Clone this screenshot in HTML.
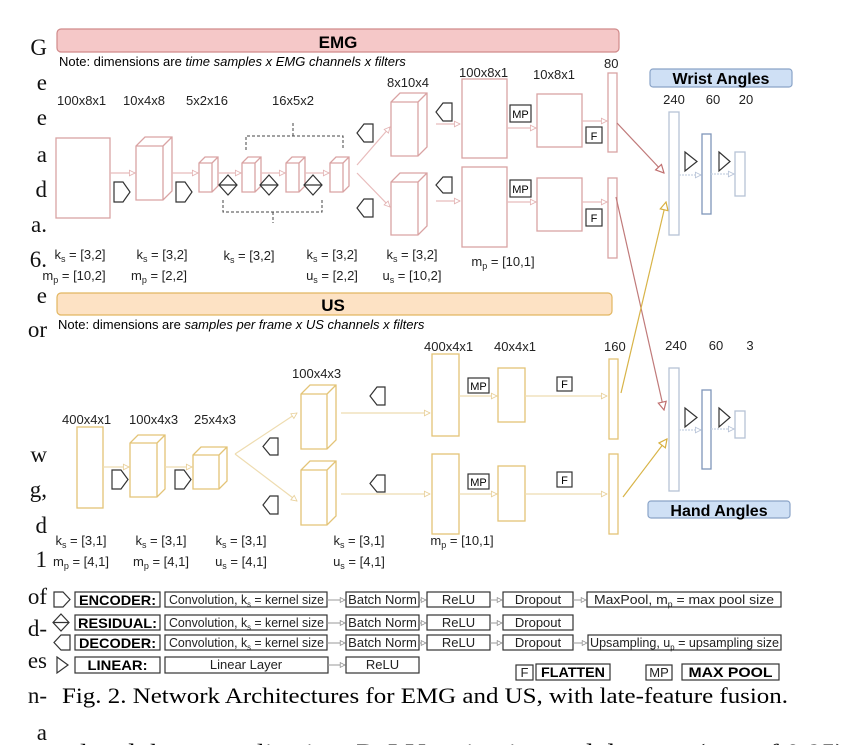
<!DOCTYPE html>
<html><head><meta charset="utf-8"><style>
html,body{margin:0;padding:0;background:#fff;width:848px;height:745px;overflow:hidden}
svg{display:block}
text{font-family:"Liberation Sans",sans-serif}
.s{font-family:"Liberation Serif",serif}
</style></head><body>
<svg width="848" height="745" viewBox="0 0 848 745" xmlns="http://www.w3.org/2000/svg">
<defs>
<marker id="ar" viewBox="0 0 10 10" refX="9" refY="5" markerWidth="7" markerHeight="7" orient="auto" markerUnits="userSpaceOnUse"><path d="M1,1 L9,5 L1,9 Z" fill="#fff" stroke="#e3b3b3" stroke-width="1.2"/></marker>
<marker id="ay" viewBox="0 0 10 10" refX="9" refY="5" markerWidth="7" markerHeight="7" orient="auto" markerUnits="userSpaceOnUse"><path d="M1,1 L9,5 L1,9 Z" fill="#fff" stroke="#e8d09a" stroke-width="1.2"/></marker>
<marker id="ab" viewBox="0 0 10 10" refX="9" refY="5" markerWidth="7" markerHeight="7" orient="auto" markerUnits="userSpaceOnUse"><path d="M1,1 L9,5 L1,9 Z" fill="#fff" stroke="#b8c4d8" stroke-width="1.2"/></marker>
<marker id="aR" viewBox="0 0 10 10" refX="9" refY="5" markerWidth="10" markerHeight="10" orient="auto" markerUnits="userSpaceOnUse"><path d="M1,1 L9,5 L1,9 Z" fill="#fff" stroke="#c07070" stroke-width="1.2"/></marker>
<marker id="aY" viewBox="0 0 10 10" refX="9" refY="5" markerWidth="10" markerHeight="10" orient="auto" markerUnits="userSpaceOnUse"><path d="M1,1 L9,5 L1,9 Z" fill="#fff" stroke="#d8b040" stroke-width="1.2"/></marker>
<marker id="ag" viewBox="0 0 10 10" refX="9" refY="5" markerWidth="6" markerHeight="6" orient="auto" markerUnits="userSpaceOnUse"><path d="M1,1 L9,5 L1,9 Z" fill="#fff" stroke="#888" stroke-width="1.2"/></marker>
</defs>

<g class="s" font-size="23" text-anchor="end" fill="#111">
<text x="47" y="55" class="s">G</text><text x="47" y="90" class="s">e</text><text x="47" y="125" class="s">e</text>
<text x="47" y="162" class="s">a</text><text x="47" y="197" class="s">d</text><text x="47" y="232" class="s">a.</text>
<text x="47" y="267" class="s">6.</text><text x="47" y="303" class="s">e</text><text x="47" y="337" class="s">or</text>
<text x="47" y="462" class="s">w</text><text x="47" y="497" class="s">g,</text><text x="47" y="533" class="s">d</text>
<text x="47" y="567" class="s">1</text><text x="47" y="604" class="s">of</text><text x="47" y="636" class="s">d-</text>
<text x="47" y="668" class="s">es</text><text x="47" y="703" class="s">n-</text><text x="47" y="740" class="s">a</text>
</g>

<rect x="57" y="29" width="562" height="23" rx="4" fill="#f5c8c8" stroke="#d08a8a" stroke-width="1.2"/>
<text x="338" y="48" font-size="17" font-weight="bold" text-anchor="middle">EMG</text>
<text x="59" y="66" font-size="13">Note: dimensions are <tspan font-style="italic">time samples x EMG channels x filters</tspan></text>

<g font-size="13" fill="#222">
<text x="57" y="105">100x8x1</text><text x="123" y="105">10x4x8</text><text x="186" y="105">5x2x16</text><text x="272" y="105">16x5x2</text>
<text x="387" y="87">8x10x4</text><text x="459" y="77">100x8x1</text><text x="533" y="79">10x8x1</text><text x="604" y="68">80</text>
</g>

<g fill="none" stroke="#d9a3a3" stroke-width="1.3">
<rect x="56" y="138" width="54" height="80"/>
<path d="M136,200 V146 l9,-9 H172 V191 l-9,9 H136 Z M136,146 H163 V200 M163,146 l9,-9"/>
<path d="M199,192 V163 l6,-6 H218 V186 l-6,6 Z M199,163 H212 V192 M212,163 l6,-6"/>
<path d="M242,192 V163 l6,-6 H261 V186 l-6,6 Z M242,163 H255 V192 M255,163 l6,-6"/>
<path d="M286,192 V163 l6,-6 H305 V186 l-6,6 Z M286,163 H299 V192 M299,163 l6,-6"/>
<path d="M330,192 V163 l6,-6 H349 V186 l-6,6 Z M330,163 H343 V192 M343,163 l6,-6"/>
<path d="M391,156 V102 l9,-9 H427 V147 l-9,9 Z M391,102 H418 V156 M418,102 l9,-9"/>
<path d="M391,235 V182 l9,-9 H427 V226 l-9,9 Z M391,182 H418 V235 M418,182 l9,-9"/>
<rect x="462" y="79" width="45" height="79"/><rect x="462" y="167" width="45" height="80"/>
<rect x="537" y="94" width="45" height="53"/><rect x="537" y="178" width="45" height="53"/>
<rect x="608" y="73" width="9" height="79"/><rect x="608" y="178" width="9" height="80"/>
</g>
<g stroke="#e8bcbc" stroke-width="1.2" fill="none">
<line x1="110" y1="173" x2="135" y2="173" marker-end="url(#ar)"/>
<line x1="172" y1="173" x2="198" y2="173" marker-end="url(#ar)"/>
<line x1="218" y1="173" x2="241" y2="173" marker-end="url(#ar)"/>
<line x1="261" y1="173" x2="285" y2="173" marker-end="url(#ar)"/>
<line x1="305" y1="173" x2="329" y2="173" marker-end="url(#ar)"/>
<line x1="357" y1="165" x2="390" y2="127" marker-end="url(#ar)"/>
<line x1="357" y1="173" x2="390" y2="207" marker-end="url(#ar)"/>
<line x1="436" y1="124" x2="460" y2="124" marker-end="url(#ar)"/>
<line x1="436" y1="201" x2="460" y2="201" marker-end="url(#ar)"/>
<line x1="507" y1="128" x2="536" y2="128" marker-end="url(#ar)"/>
<line x1="507" y1="202" x2="536" y2="202" marker-end="url(#ar)"/>
<line x1="582" y1="121" x2="607" y2="121" marker-end="url(#ar)"/>
<line x1="582" y1="202" x2="607" y2="202" marker-end="url(#ar)"/>
</g>
<g stroke="#333" stroke-width="1.2" fill="#fff">
<path d="M114,182 H123 L130,192 L123,202 H114 Z"/><path d="M176,182 H185 L192,192 L185,202 H176 Z"/>
<path d="M228,175 L237,185 L228,195 L219,185 Z M219,185 H237"/>
<path d="M269,175 L278,185 L269,195 L260,185 Z M260,185 H278"/>
<path d="M313,175 L322,185 L313,195 L304,185 Z M304,185 H322"/>
<path d="M373,124 H364 L357,133 L364,142 H373 Z"/><path d="M373,199 H364 L357,208 L364,217 H373 Z"/>
<path d="M452,103 H443 L436,112 L443,121 H452 Z"/><path d="M452,177 H443 L436,185 L443,193 H452 Z"/>
</g>
<g stroke="#444" stroke-width="1" fill="none" stroke-dasharray="3,2">
<path d="M246,150 V136 H343 V150 M293,136 V122"/>
<path d="M223,200 V212 H322 V200 M273,212 V223"/>
</g>
<g stroke="#333" stroke-width="1.2" fill="#fff">
<rect x="510" y="105" width="21" height="17"/><rect x="510" y="180" width="21" height="17"/>
<rect x="586" y="127" width="16" height="16"/><rect x="586" y="209" width="16" height="17"/>
</g>
<g font-size="11" text-anchor="middle"><text x="520.5" y="118">MP</text><text x="520.5" y="193">MP</text><text x="594" y="140">F</text><text x="594" y="222">F</text></g>

<g font-size="13" text-anchor="middle" fill="#222">
<text x="80" y="259">k<tspan font-size="9" dy="3">s</tspan><tspan dy="-3"> = [3,2]</tspan></text>
<text x="74" y="280">m<tspan font-size="9" dy="3">p</tspan><tspan dy="-3"> = [10,2]</tspan></text>
<text x="162" y="259">k<tspan font-size="9" dy="3">s</tspan><tspan dy="-3"> = [3,2]</tspan></text>
<text x="159" y="280">m<tspan font-size="9" dy="3">p</tspan><tspan dy="-3"> = [2,2]</tspan></text>
<text x="249" y="260">k<tspan font-size="9" dy="3">s</tspan><tspan dy="-3"> = [3,2]</tspan></text>
<text x="332" y="259">k<tspan font-size="9" dy="3">s</tspan><tspan dy="-3"> = [3,2]</tspan></text>
<text x="332" y="280">u<tspan font-size="9" dy="3">s</tspan><tspan dy="-3"> = [2,2]</tspan></text>
<text x="412" y="259">k<tspan font-size="9" dy="3">s</tspan><tspan dy="-3"> = [3,2]</tspan></text>
<text x="412" y="280">u<tspan font-size="9" dy="3">s</tspan><tspan dy="-3"> = [10,2]</tspan></text>
<text x="503" y="266">m<tspan font-size="9" dy="3">p</tspan><tspan dy="-3"> = [10,1]</tspan></text>
</g>

<rect x="57" y="293" width="555" height="22" rx="4" fill="#fde2c4" stroke="#e2b660" stroke-width="1.2"/>
<text x="333" y="311" font-size="17" font-weight="bold" text-anchor="middle">US</text>
<text x="58" y="329" font-size="13">Note: dimensions are  <tspan font-style="italic">samples per frame x US channels x filters</tspan></text>

<g font-size="13" fill="#222">
<text x="62" y="424">400x4x1</text><text x="129" y="424">100x4x3</text><text x="194" y="424">25x4x3</text>
<text x="292" y="378">100x4x3</text><text x="424" y="351">400x4x1</text><text x="494" y="351">40x4x1</text><text x="604" y="351">160</text>
</g>
<g fill="none" stroke="#e3c477" stroke-width="1.3">
<rect x="77" y="427" width="26" height="81"/>
<path d="M130,497 V443 l8,-8 H165 V489 l-8,8 Z M130,443 H157 V497 M157,443 l8,-8"/>
<path d="M193,489 V455 l8,-8 H227 V481 l-8,8 Z M193,455 H219 V489 M219,455 l8,-8"/>
<path d="M301,449 V394 l9,-9 H336 V440 l-9,9 Z M301,394 H327 V449 M327,394 l9,-9"/>
<path d="M301,525 V470 l9,-9 H336 V516 l-9,9 Z M301,470 H327 V525 M327,470 l9,-9"/>
<rect x="432" y="354" width="27" height="82"/><rect x="432" y="454" width="27" height="80"/>
<rect x="498" y="368" width="27" height="54"/><rect x="498" y="466" width="27" height="55"/>
<rect x="609" y="359" width="9" height="80"/><rect x="609" y="454" width="9" height="80"/>
</g>
<g stroke="#eedcb0" stroke-width="1.2" fill="none">
<line x1="103" y1="467" x2="129" y2="467" marker-end="url(#ay)"/>
<line x1="165" y1="467" x2="192" y2="467" marker-end="url(#ay)"/>
<line x1="235" y1="454" x2="297" y2="413" marker-end="url(#ay)"/>
<line x1="235" y1="454" x2="297" y2="501" marker-end="url(#ay)"/>
<line x1="341" y1="413" x2="430" y2="413" marker-end="url(#ay)"/>
<line x1="341" y1="494" x2="430" y2="494" marker-end="url(#ay)"/>
<line x1="459" y1="396" x2="497" y2="396" marker-end="url(#ay)"/>
<line x1="459" y1="494" x2="497" y2="494" marker-end="url(#ay)"/>
<line x1="525" y1="396" x2="607" y2="396" marker-end="url(#ay)"/>
<line x1="525" y1="494" x2="607" y2="494" marker-end="url(#ay)"/>
</g>
<g stroke="#333" stroke-width="1.2" fill="#fff">
<path d="M112,470 H121 L128,479.5 L121,489 H112 Z"/><path d="M175,470 H184 L191,479.5 L184,489 H175 Z"/>
<path d="M278,438 H270 L263,446.5 L270,455 H278 Z"/><path d="M278,496 H270 L263,505 L270,514 H278 Z"/>
<path d="M385,387 H377 L370,396 L377,405 H385 Z"/><path d="M385,475 H377 L370,483.5 L377,492 H385 Z"/>
<rect x="468" y="378" width="21" height="15"/><rect x="468" y="474" width="21" height="15"/>
<rect x="557" y="377" width="15" height="14"/><rect x="557" y="472" width="15" height="15"/>
</g>
<g font-size="11" text-anchor="middle"><text x="478.5" y="390">MP</text><text x="478.5" y="486">MP</text><text x="564.5" y="388">F</text><text x="564.5" y="484">F</text></g>

<g font-size="13" text-anchor="middle" fill="#222">
<text x="81" y="545">k<tspan font-size="9" dy="3">s</tspan><tspan dy="-3"> = [3,1]</tspan></text>
<text x="81" y="566">m<tspan font-size="9" dy="3">p</tspan><tspan dy="-3"> = [4,1]</tspan></text>
<text x="161" y="545">k<tspan font-size="9" dy="3">s</tspan><tspan dy="-3"> = [3,1]</tspan></text>
<text x="161" y="566">m<tspan font-size="9" dy="3">p</tspan><tspan dy="-3"> = [4,1]</tspan></text>
<text x="241" y="545">k<tspan font-size="9" dy="3">s</tspan><tspan dy="-3"> = [3,1]</tspan></text>
<text x="241" y="566">u<tspan font-size="9" dy="3">s</tspan><tspan dy="-3"> = [4,1]</tspan></text>
<text x="359" y="545">k<tspan font-size="9" dy="3">s</tspan><tspan dy="-3"> = [3,1]</tspan></text>
<text x="359" y="566">u<tspan font-size="9" dy="3">s</tspan><tspan dy="-3"> = [4,1]</tspan></text>
<text x="462" y="545">m<tspan font-size="9" dy="3">p</tspan><tspan dy="-3"> = [10,1]</tspan></text>
</g>

<line x1="617" y1="123" x2="664" y2="173" stroke="#c07a7a" stroke-width="1.2" marker-end="url(#aR)"/>
<line x1="616" y1="197" x2="664" y2="410" stroke="#c07a7a" stroke-width="1.2" marker-end="url(#aR)"/>
<line x1="621" y1="393" x2="666" y2="202" stroke="#d8b448" stroke-width="1.2" marker-end="url(#aY)"/>
<line x1="623" y1="497" x2="667" y2="439" stroke="#d8b448" stroke-width="1.2" marker-end="url(#aY)"/>

<rect x="650" y="69" width="142" height="18" rx="3" fill="#cfe0f5" stroke="#8aa4c8" stroke-width="1.2"/>
<text x="721" y="84" font-size="16" font-weight="bold" text-anchor="middle">Wrist Angles</text>
<rect x="648" y="501" width="142" height="17" rx="3" fill="#cfe0f5" stroke="#8aa4c8" stroke-width="1.2"/>
<text x="719" y="516" font-size="16" font-weight="bold" text-anchor="middle">Hand Angles</text>
<g font-size="13" text-anchor="middle" fill="#222">
<text x="674" y="104">240</text><text x="713" y="104">60</text><text x="746" y="104">20</text>
<text x="676" y="350">240</text><text x="716" y="350">60</text><text x="750" y="350">3</text>
</g>
<g fill="none" stroke-width="1.3">
<rect x="669" y="112" width="10" height="123" stroke="#b6c2d6"/>
<rect x="702" y="134" width="9" height="80" stroke="#7f96ba"/>
<rect x="735" y="152" width="10" height="44" stroke="#b6c2d6"/>
<rect x="669" y="368" width="10" height="123" stroke="#b6c2d6"/>
<rect x="702" y="390" width="9" height="79" stroke="#7f96ba"/>
<rect x="735" y="411" width="10" height="27" stroke="#b6c2d6"/>
</g>
<g stroke="#c8d2e2" stroke-width="1.2" stroke-dasharray="2,1">
<line x1="679" y1="175" x2="701" y2="175" marker-end="url(#ab)"/>
<line x1="711" y1="174" x2="734" y2="174" marker-end="url(#ab)"/>
<line x1="679" y1="430" x2="701" y2="430" marker-end="url(#ab)"/>
<line x1="711" y1="429" x2="734" y2="429" marker-end="url(#ab)"/>
</g>
<g stroke="#333" stroke-width="1.2" fill="#fff">
<path d="M685,152 L697,161.5 L685,171 Z"/><path d="M719,152 L730,161.5 L719,171 Z"/>
<path d="M685,408 L697,417.5 L685,427 Z"/><path d="M719,408 L730,417.5 L719,427 Z"/>
</g>

<g stroke="#333" stroke-width="1.2" fill="#fff">
<path d="M54,592 H63 L70,599.5 L63,607 H54 Z"/>
<path d="M61,614 L69,622.5 L61,631 L53,622.5 Z M53,622.5 H69"/>
<path d="M70,635 H61 L54,642.5 L61,650 H70 Z"/>
<path d="M57,657 L68,665 L57,673 Z"/>
<rect x="75" y="592" width="85" height="15"/><rect x="75" y="615" width="85" height="15"/><rect x="75" y="635" width="85" height="15"/><rect x="75" y="657" width="85" height="16"/>
<rect x="165" y="592" width="162" height="15"/><rect x="165" y="615" width="162" height="15"/><rect x="165" y="635" width="162" height="15"/><rect x="165" y="657" width="163" height="16"/>
<rect x="346" y="592" width="73" height="15"/><rect x="346" y="615" width="73" height="15"/><rect x="346" y="635" width="73" height="15"/><rect x="346" y="657" width="73" height="16"/>
<rect x="427" y="592" width="63" height="15"/><rect x="427" y="615" width="63" height="15"/><rect x="427" y="635" width="63" height="15"/>
<rect x="503" y="592" width="70" height="15"/><rect x="503" y="615" width="70" height="15"/><rect x="503" y="635" width="70" height="15"/>
<rect x="587" y="592" width="194" height="15"/><rect x="588" y="635" width="193" height="15"/>
<rect x="516" y="665" width="17" height="15"/><rect x="536" y="664" width="74" height="16"/>
<rect x="646" y="665" width="26" height="15"/><rect x="682" y="664" width="97" height="16"/>
</g>
<g stroke="#999" stroke-width="1" fill="none">
<line x1="327" y1="600" x2="345" y2="600" marker-end="url(#ag)"/><line x1="419" y1="600" x2="426" y2="600" marker-end="url(#ag)"/>
<line x1="490" y1="600" x2="502" y2="600" marker-end="url(#ag)"/><line x1="573" y1="600" x2="586" y2="600" marker-end="url(#ag)"/>
<line x1="327" y1="623" x2="345" y2="623" marker-end="url(#ag)"/><line x1="419" y1="623" x2="426" y2="623" marker-end="url(#ag)"/>
<line x1="490" y1="623" x2="502" y2="623" marker-end="url(#ag)"/>
<line x1="327" y1="643" x2="345" y2="643" marker-end="url(#ag)"/><line x1="419" y1="643" x2="426" y2="643" marker-end="url(#ag)"/>
<line x1="490" y1="643" x2="502" y2="643" marker-end="url(#ag)"/><line x1="573" y1="643" x2="587" y2="643" marker-end="url(#ag)"/>
<line x1="328" y1="665" x2="345" y2="665" marker-end="url(#ag)"/>
</g>
<g font-size="14" font-weight="bold" text-anchor="middle">
<text x="117.5" y="605" textLength="77" lengthAdjust="spacingAndGlyphs">ENCODER:</text>
<text x="117.5" y="628" textLength="79" lengthAdjust="spacingAndGlyphs">RESIDUAL:</text>
<text x="117.5" y="648" textLength="77" lengthAdjust="spacingAndGlyphs">DECODER:</text>
<text x="117.5" y="670" textLength="60" lengthAdjust="spacingAndGlyphs">LINEAR:</text>
<text x="573" y="677" textLength="64" lengthAdjust="spacingAndGlyphs">FLATTEN</text>
<text x="730.5" y="677" textLength="84" lengthAdjust="spacingAndGlyphs">MAX POOL</text>
</g>
<g font-size="13" fill="#222">
<text x="169" y="604" textLength="155" lengthAdjust="spacingAndGlyphs">Convolution, k<tspan font-size="8" dy="3">s</tspan><tspan dy="-3"> = kernel size</tspan></text>
<text x="169" y="627" textLength="155" lengthAdjust="spacingAndGlyphs">Convolution, k<tspan font-size="8" dy="3">s</tspan><tspan dy="-3"> = kernel size</tspan></text>
<text x="169" y="647" textLength="155" lengthAdjust="spacingAndGlyphs">Convolution, k<tspan font-size="8" dy="3">s</tspan><tspan dy="-3"> = kernel size</tspan></text>
<g text-anchor="middle">
<text x="246" y="669">Linear Layer</text>
<text x="382.5" y="604">Batch Norm</text><text x="382.5" y="627">Batch Norm</text><text x="382.5" y="647">Batch Norm</text><text x="382.5" y="669">ReLU</text>
<text x="458.5" y="604">ReLU</text><text x="458.5" y="627">ReLU</text><text x="458.5" y="647">ReLU</text>
<text x="538" y="604">Dropout</text><text x="538" y="627">Dropout</text><text x="538" y="647">Dropout</text>
<text x="684" y="604" textLength="180" lengthAdjust="spacingAndGlyphs">MaxPool, m<tspan font-size="8" dy="3">p</tspan><tspan dy="-3"> = max pool size</tspan></text>
<text x="684.5" y="647" textLength="189" lengthAdjust="spacingAndGlyphs">Upsampling, u<tspan font-size="8" dy="3">p</tspan><tspan dy="-3"> = upsampling size</tspan></text>
<text x="524.5" y="677">F</text><text x="659" y="677">MP</text>
</g>
</g>

<text class="s" x="62" y="703" font-size="22" textLength="726" lengthAdjust="spacingAndGlyphs">Fig. 2.  Network Architectures for EMG and US, with late-feature fusion.</text>
<text class="s" x="80" y="760" font-size="23" textLength="765" lengthAdjust="spacingAndGlyphs">lated the normalization, ReLU activation and dropout (rate of 0.95)</text>
</svg>
</body></html>
